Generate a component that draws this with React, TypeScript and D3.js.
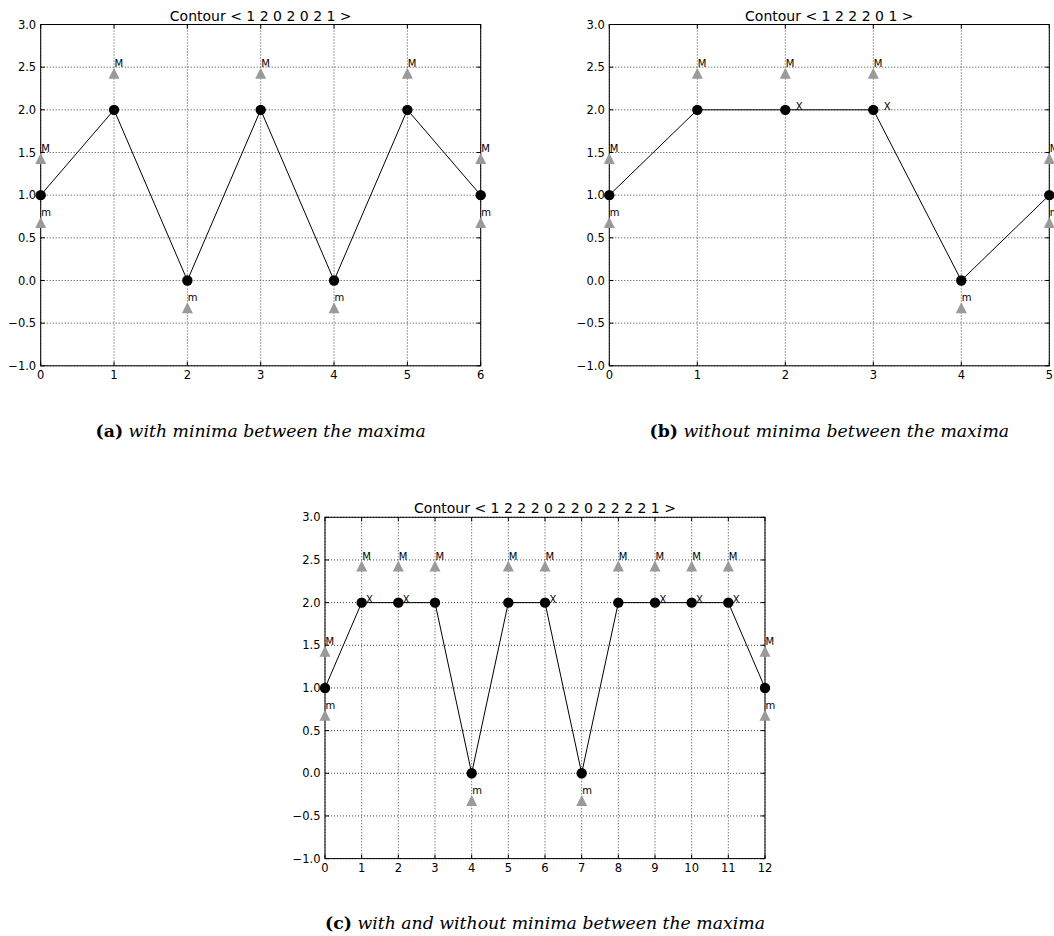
import * as d3 from 'd3'
import React from 'react'

// contour values, one per position
const contourA = [1, 2, 0, 2, 0, 2, 1]
const maximaA = [0, 1, 3, 5, 6]
const minimaA = [0, 2, 4, 6]
const crossedA: number[] = []

const contourB = [1, 2, 2, 2, 0, 1]
const maximaB = [0, 1, 2, 3, 5]
const minimaB = [0, 4, 5]
const crossedB = [2, 3]

const contourC = [1, 2, 2, 2, 0, 2, 2, 0, 2, 2, 2, 2, 1]
const maximaC = [0, 1, 2, 3, 5, 6, 8, 9, 10, 11, 12]
const minimaC = [0, 4, 7, 12]
const crossedC = [1, 2, 6, 9, 10, 11]

const yTicks = [-1, -0.5, 0, 0.5, 1, 1.5, 2, 2.5, 3]
const yDomain = [-1, 3]

const captionA = 'with minima between the maxima'
const captionB = 'without minima between the maxima'
const captionC = 'with and without minima between the maxima'

// marker offsets in data units
const maxShift = 0.43
const minShift = -0.32
const labelLift = 0.075
const crossShift = 0.12

const W = 440
const H = 341.3
const sans = 'DejaVu Sans, sans-serif'
const grey = '#9a9a9a'

const tri = (cx: number, cy: number, s: number) =>
  `M${cx},${cy - s}L${cx - s},${cy + s}L${cx + s},${cy + s}Z`

function Panel({ values, maxima, minima, crossed, left, top, tag, caption, captionY }: any) {
  const x = d3.scaleLinear().domain([0, values.length - 1]).range([left, left + W])
  const y = d3.scaleLinear().domain(yDomain).range([top + H, top])
  const xTicks = d3.range(values.length)
  const fmt = d3.format('.1f')
  const line = d3.line<number>().x((d, i) => x(i)).y(d => y(d))
  const tick = 4

  return (
    <g>
      {/* grid */}
      <g stroke="#000" strokeWidth={1} strokeDasharray="1,2" opacity={0.75}>
        {xTicks.map(t => (
          <line key={'gx' + t} x1={x(t)} x2={x(t)} y1={top} y2={top + H} />
        ))}
        {yTicks.map(t => (
          <line key={'gy' + t} x1={left} x2={left + W} y1={y(t)} y2={y(t)} />
        ))}
      </g>
      {/* ticks, inward on every side */}
      <g stroke="#000" strokeWidth={1}>
        {xTicks.map(t => (
          <g key={'tx' + t}>
            <line x1={x(t)} x2={x(t)} y1={top + H} y2={top + H - tick} />
            <line x1={x(t)} x2={x(t)} y1={top} y2={top + tick} />
          </g>
        ))}
        {yTicks.map(t => (
          <g key={'ty' + t}>
            <line x1={left} x2={left + tick} y1={y(t)} y2={y(t)} />
            <line x1={left + W} x2={left + W - tick} y1={y(t)} y2={y(t)} />
          </g>
        ))}
      </g>
      <rect x={left} y={top} width={W} height={H} fill="none" stroke="#000" strokeWidth={1} />
      {/* tick labels */}
      <g fontFamily={sans} fontSize={11.5} fill="#000">
        {xTicks.map(t => (
          <text key={'lx' + t} x={x(t)} y={top + H + 13.5} textAnchor="middle">{t}</text>
        ))}
        {yTicks.map(t => (
          <text key={'ly' + t} x={left - 4.5} y={y(t) + 4.1} textAnchor="end">{fmt(t)}</text>
        ))}
      </g>
      <text x={left + W / 2} y={top - 4} textAnchor="middle" fontFamily={sans} fontSize={14}>
        {`Contour < ${values.join(' ')} >`}
      </text>
      {/* contour */}
      <path d={line(values) || ''} fill="none" stroke="#000" strokeWidth={1} />
      {values.map((v: number, i: number) => (
        <circle key={'c' + i} cx={x(i)} cy={y(v)} r={5.2} fill="#000" />
      ))}
      {/* maxima / minima markers */}
      {maxima.map((i: number) => (
        <g key={'M' + i}>
          <path d={tri(x(i), y(values[i] + maxShift), 5.5)} fill={grey} />
          <text x={x(i) + 0.5} y={y(values[i] + maxShift + labelLift)} fontFamily={sans} fontSize={10}>M</text>
        </g>
      ))}
      {minima.map((i: number) => (
        <g key={'m' + i}>
          <path d={tri(x(i), y(values[i] + minShift), 5.5)} fill={grey} />
          <text x={x(i) + 0.5} y={y(values[i] + minShift + labelLift)} fontFamily={sans} fontSize={10}>m</text>
        </g>
      ))}
      {crossed.map((i: number) => (
        <text key={'X' + i} x={x(i + crossShift)} y={y(values[i])} fontFamily={sans} fontSize={10}>X</text>
      ))}
      {/* caption */}
      <text x={left + W / 2} y={captionY} textAnchor="middle" fontFamily="DejaVu Serif, serif" fontSize={17.3}>
        <tspan fontWeight="bold">{`(${tag})`}</tspan>
        <tspan fontStyle="italic">{' ' + caption}</tspan>
      </text>
    </g>
  )
}

export default function App() {
  return (
    <svg width={1054} height={936} style={{ position: 'absolute', left: 0, top: 0, background: '#fff' }}>
      <rect width={1054} height={936} fill="#fff" />
      <Panel values={contourA} maxima={maximaA} minima={minimaA} crossed={crossedA}
        left={40.7} top={24.5} tag="a" caption={captionA} captionY={436.7} />
      <Panel values={contourB} maxima={maximaB} minima={minimaB} crossed={crossedB}
        left={609.3} top={24.5} tag="b" caption={captionB} captionY={436.7} />
      <Panel values={contourC} maxima={maximaC} minima={minimaC} crossed={crossedC}
        left={325} top={517.3} tag="c" caption={captionC} captionY={929} />
    </svg>
  )
}
